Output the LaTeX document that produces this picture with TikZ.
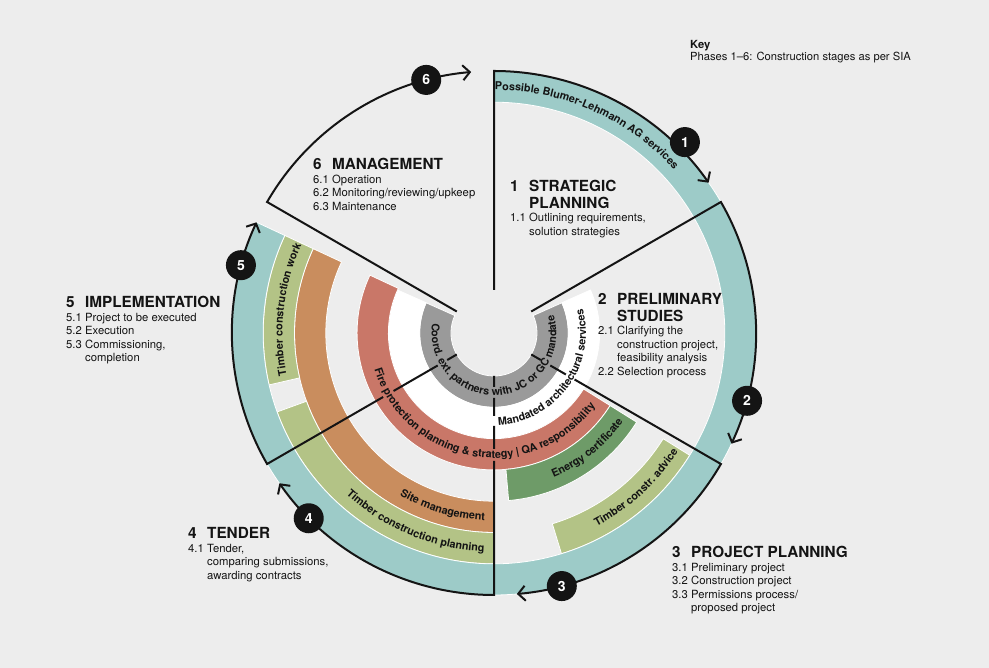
\documentclass[tikz,border=0pt]{standalone}
\usepackage{fontspec}
\setmainfont{TeX Gyre Heros}
\usepackage{xcolor}
\usetikzlibrary{arrows.meta,decorations.text}

\definecolor{bgpaper}{HTML}{EDEDED}
\definecolor{lagoon}{HTML}{9DCBC8}
\definecolor{moss}{HTML}{B3C386}
\definecolor{ochre}{HTML}{C98D5E}
\definecolor{brick}{HTML}{C97768}
\definecolor{fir}{HTML}{6E9B68}
\definecolor{slate}{HTML}{9A9A9A}
\definecolor{ink}{HTML}{141414}

\newcommand{\headfont}{\bfseries\fontsize{15.3}{18}\selectfont}
\newcommand{\bodyfont}{\fontsize{11.3}{13.5}\selectfont}
\newcommand{\bandfont}{\bfseries\fontsize{10.8}{12}\selectfont}

% annular segment: colour, inner r, outer r, from angle, to angle
\newcommand{\ringseg}[5]{%
  \path[bandseg=#1] (#4:#2) arc[start angle=#4, end angle=#5, radius=#2]
    -- (#5:#3) arc[start angle=#5, end angle=#4, radius=#3] -- cycle;}

\tikzset{
  bandseg/.style={fill=#1, draw=white, line width=0.8pt},
  phasearc/.style={draw=ink, line width=2pt,
    -{Straight Barb[length=7pt,width=15pt]}},
  phasemark/.style={circle, fill=ink, text=white, minimum size=30pt,
    inner sep=0pt, font=\bfseries\fontsize{14}{14}\selectfont},
  phasetext/.style={anchor=base west, inner sep=0pt, font=\bodyfont, text=ink},
  bandlabel/.style={decorate, decoration={text along path,
    text align=center, text color=ink, text={|\bandfont|#1}}},
}

\begin{document}
\begin{tikzpicture}[x=1pt, y=1pt]

% canvas
\useasboundingbox (0,0) rectangle (989,668);
\fill[bgpaper] (0,0) rectangle (989,668);

\begin{scope}[shift={(494,335)}]
% ring bands, inside out
\ringseg{slate}{43}{74.3}{156}{384}
\ringseg{white}{74.3}{105.6}{156}{384}
\ringseg{brick}{105.6}{136.9}{155}{328}
\ringseg{fir}{136.9}{168.2}{275}{328}
\ringseg{ochre}{168.2}{199.5}{155}{270}
\ringseg{moss}{199.5}{230.8}{155}{193}
\ringseg{moss}{199.5}{230.8}{200}{270}
\ringseg{moss}{199.5}{230.8}{287}{328}
\ringseg{lagoon}{230.8}{262}{-205}{90}

% phase outlines: radial edge (broken under inner labels) + arc with arrow
\draw[phasearc] (90:43) -- (90:262) arc[start angle=90, end angle=35, radius=262];
\draw[phasearc] (30:43) -- (30:262) arc[start angle=30, end angle=-25, radius=262];
\draw[phasearc] (-30:43) -- (-30:54) (-30:65) -- (-30:83) (-30:93) -- (-30:262)
  arc[start angle=-30, end angle=-85, radius=262];
\draw[phasearc] (-90:43) -- (-90:54) (-90:65) -- (-90:83) (-90:93) -- (-90:116)
  (-90:128) -- (-90:262) arc[start angle=-90, end angle=-145, radius=262];
\draw[phasearc] (-150:43) -- (-150:54) (-150:65) -- (-150:116) (-150:128) -- (-150:262)
  arc[start angle=-150, end angle=-205, radius=262];
\draw[phasearc] (150:43) -- (150:262) arc[start angle=150, end angle=95, radius=262];

% band labels
\path[bandlabel={Possible Blumer-Lehmann AG services}] (100:243) arc[start angle=100, end angle=32, radius=243];
\path[bandlabel={Timber construction work}] (200:211.5) arc[start angle=200, end angle=147, radius=211.5];
\path[bandlabel={Site management}] (225:187.7) arc[start angle=225, end angle=282, radius=187.7];
\path[bandlabel={Timber construction planning}] (220:219) arc[start angle=220, end angle=275, radius=219];
\path[bandlabel={Fire protection planning {\&} strategy {\textbar} QA responsibility}] (190:125) arc[start angle=190, end angle=331, radius=125];
\path[bandlabel={Energy certificate}] (-80:156.3) arc[start angle=-80, end angle=-22, radius=156.3];
\path[bandlabel={Timber constr. advice}] (-70:219) arc[start angle=-70, end angle=-24.8, radius=219];
\path[bandlabel={Mandated architectural services}] (-96:92) arc[start angle=-96, end angle=24, radius=92];
\path[bandlabel={Coord. ext. partners with JC or GC mandate}] (164:62.4) arc[start angle=164, end angle=384, radius=62.4];

% phase markers
\foreach \s/\n/\mr in {90/1/270,30/2/262,-30/3/262,-90/4/262,-150/5/262,150/6/262}{
  \node[phasemark] (mark\n) at (\s-45:\mr) {\n};
}
\end{scope}

% phase descriptions
\node[phasetext] (stage1) at (510,476) {\begin{tabular}[t]{@{}p{19pt}@{}l@{}}
  \headfont 1 & \headfont STRATEGIC\\[1pt]
   & \headfont PLANNING\\
  1.1 & Outlining requirements,\\
   & solution strategies
\end{tabular}};
\node[phasetext] (stage2) at (598,363) {\begin{tabular}[t]{@{}p{19pt}@{}l@{}}
  \headfont 2 & \headfont PRELIMINARY\\[1pt]
   & \headfont STUDIES\\
  2.1 & Clarifying the\\
   & construction project,\\
   & feasibility analysis\\
  2.2 & Selection process
\end{tabular}};
\node[phasetext] (stage3) at (672,110) {\begin{tabular}[t]{@{}p{19pt}@{}l@{}}
  \headfont 3 & \headfont PROJECT PLANNING\\
  3.1 & Preliminary project\\
  3.2 & Construction project\\
  3.3 & Permissions process/\\
   & proposed project
\end{tabular}};
\node[phasetext] (stage4) at (188,129) {\begin{tabular}[t]{@{}p{19pt}@{}l@{}}
  \headfont 4 & \headfont TENDER\\
  4.1 & Tender,\\
   & comparing submissions,\\
   & awarding contracts
\end{tabular}};
\node[phasetext] (stage5) at (66,360) {\begin{tabular}[t]{@{}p{19pt}@{}l@{}}
  \headfont 5 & \headfont IMPLEMENTATION\\
  5.1 & Project to be executed\\
  5.2 & Execution\\
  5.3 & Commissioning,\\
   & completion
\end{tabular}};
\node[phasetext] (stage6) at (313,498) {\begin{tabular}[t]{@{}p{19pt}@{}l@{}}
  \headfont 6 & \headfont MANAGEMENT\\
  6.1 & Operation\\
  6.2 & Monitoring/reviewing/upkeep\\
  6.3 & Maintenance
\end{tabular}};

% key
\node[phasetext, font=\fontsize{11.2}{13}\selectfont] (keyhead) at (690,619) {\textbf{Key}};
\node[phasetext, font=\fontsize{11.2}{13}\selectfont] (keybody) at (690,607) {Phases 1–6: Construction stages as per SIA};

\end{tikzpicture}
\end{document}
